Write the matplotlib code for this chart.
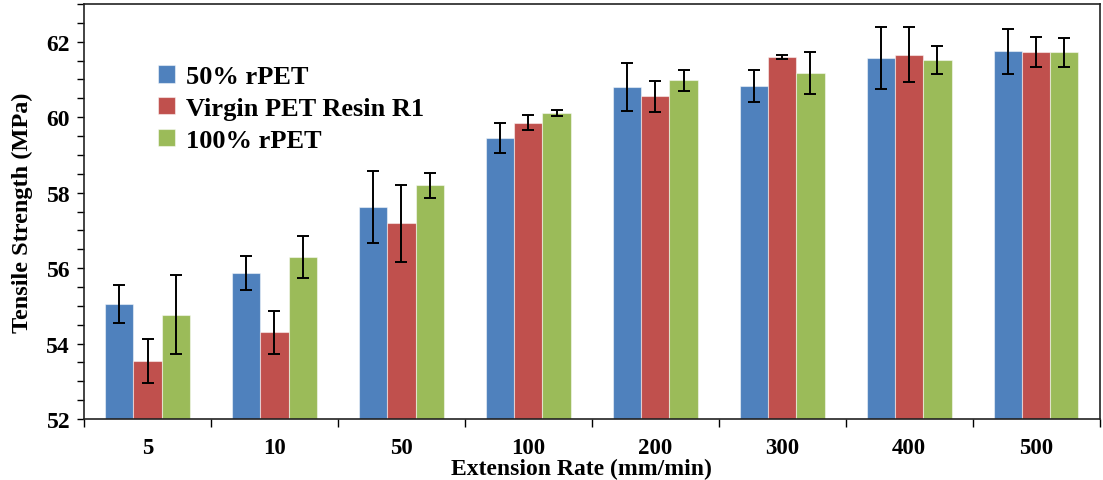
import matplotlib
matplotlib.use("Agg")
import matplotlib.pyplot as plt
import numpy as np
from matplotlib.ticker import MultipleLocator, NullFormatter

categories = ["5", "10", "50", "100", "200", "300", "400", "500"]
series_names = ["50% rPET", "Virgin PET Resin R1", "100% rPET"]
rpet50 = [55.05, 55.87, 57.62, 59.45, 60.80, 60.83, 61.57, 61.75]
rpet50_err = [0.50, 0.45, 0.95, 0.40, 0.63, 0.42, 0.83, 0.60]
virgin = [53.53, 54.30, 57.19, 59.85, 60.55, 61.59, 61.66, 61.73]
virgin_err = [0.58, 0.57, 1.02, 0.20, 0.41, 0.06, 0.73, 0.40]
rpet100 = [54.76, 56.30, 58.19, 60.12, 60.98, 61.17, 61.52, 61.72]
rpet100_err = [1.05, 0.55, 0.33, 0.08, 0.28, 0.56, 0.37, 0.38]
y_ticks = [52, 54, 56, 58, 60, 62]
colors = ["#4F81BD", "#C0504D", "#9BBB59"]

plt.rcParams['font.family'] = ['Liberation Serif', 'DejaVu Serif']
plt.rcParams['font.weight'] = 'bold'

fig = plt.figure(figsize=(11.03, 4.81), dpi=100)
ax = fig.add_axes([0.0762, 0.1268, 0.9208, 0.8628])

x = np.arange(len(categories))
w = 0.222
data = [(rpet50, rpet50_err), (virgin, virgin_err), (rpet100, rpet100_err)]
for i, ((vals, errs), c, name) in enumerate(zip(data, colors, series_names)):
    ax.bar(x + (i - 1) * w, vals, w, color=c, edgecolor=(1, 1, 1, 0.5), linewidth=0.8,
           label=name, zorder=2)
    ax.errorbar(x + (i - 1) * w, vals, yerr=errs, fmt='none', ecolor='black',
                elinewidth=1.4, capsize=4, capthick=1.4, zorder=3)

ax.set_xlim(-0.5, len(categories) - 0.5)
ax.set_ylim(52, 63)
ax.set_yticks(y_ticks)
ax.set_yticklabels([str(v) for v in y_ticks], fontsize=17, fontweight='bold')
ax.yaxis.set_minor_locator(MultipleLocator(0.5))
ax.tick_params(axis='y', which='both', direction='out', length=5, width=1)
ax.tick_params(axis='y', which='major', pad=5)

ax.set_xticks(np.arange(len(categories) + 1) - 0.5)
ax.xaxis.set_major_formatter(NullFormatter())
ax.set_xticks(x, minor=True)
ax.set_xticklabels(categories, minor=True, fontsize=16.5, fontweight='bold')
ax.tick_params(axis='x', which='major', direction='out', length=6, width=1)
ax.tick_params(axis='x', which='minor', length=0, pad=13)

for s in ax.spines.values():
    s.set_linewidth(1.2)
    s.set_color('#222222')

ax.set_xlabel("Extension Rate (mm/min)", fontsize=17, fontweight='bold')
ax.xaxis.set_label_coords(0.49, -0.118, transform=ax.transAxes)
ax.xaxis.label.set_va('center')
ax.set_ylabel("Tensile Strength (MPa)", fontsize=17.5, fontweight='bold', labelpad=10)

leg = ax.legend(loc='upper left', bbox_to_anchor=(0.073, 0.853), frameon=False,
                fontsize=19, handlelength=0.65, handleheight=0.65, handletextpad=0.4,
                labelspacing=0.33, borderaxespad=0, borderpad=0)
for t in leg.get_texts():
    t.set_fontweight('bold')

fig.savefig("out.png", dpi=100)
